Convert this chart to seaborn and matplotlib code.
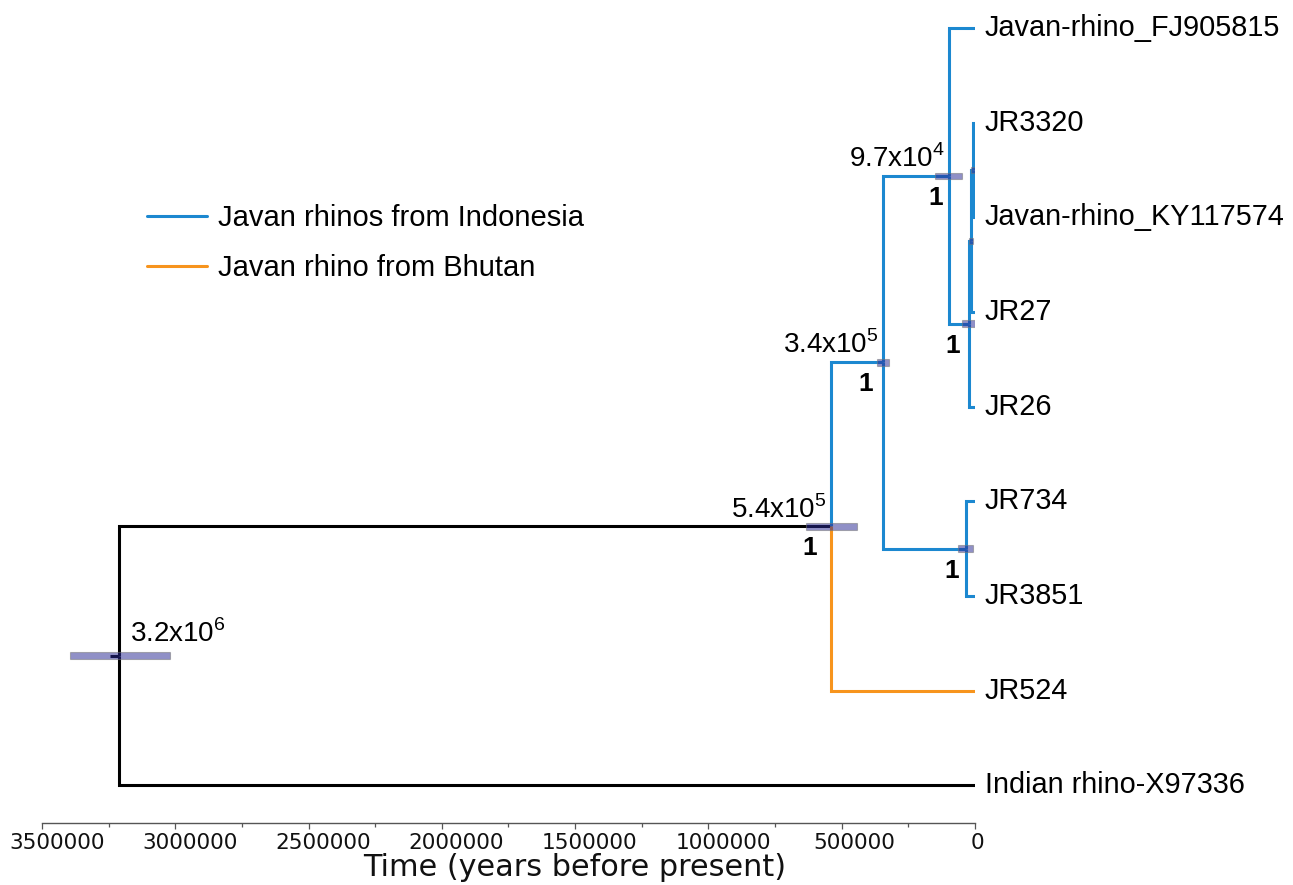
import numpy as np
import pandas as pd
import matplotlib
matplotlib.use("Agg")
import matplotlib.pyplot as plt
from matplotlib.lines import Line2D
from matplotlib.ticker import MultipleLocator, FuncFormatter
import matplotlib.transforms as mtransforms
import seaborn as sns

# ---------------- data ----------------
tip_labels = ["Javan-rhino_FJ905815", "JR3320", "Javan-rhino_KY117574", "JR27", "JR26",
              "JR734", "JR3851", "JR524", "Indian rhino-X97336"]
tip_groups = ["indo", "indo", "indo", "indo", "indo", "indo", "indo", "bhutan", "out"]

node_names = ["root", "n54", "n34", "n97", "nA", "nB", "nC", "nL"]
node_ages = [3210000, 540000, 345000, 97000, 22000, 16000, 7500, 34000]
node_hpd_low = [3020000, 443000, 322000, 49000, 0, 7000, 0, 7500]
node_hpd_high = [3395000, 634000, 367000, 150000, 49000, 22000, 15000, 64000]
node_age_labels = ["3.2x10$^{6}$", "5.4x10$^{5}$", "3.4x10$^{5}$", "9.7x10$^{4}$", "", "", "", ""]
node_posterior = ["", "1", "1", "1", "1", "", "", "1"]
node_groups = ["out", "out", "indo", "indo", "indo", "indo", "indo", "indo"]
# topology: children of each internal node
node_children = {
    "root": ["n54", "Indian rhino-X97336"],
    "n54": ["n34", "JR524"],
    "n34": ["n97", "nL"],
    "n97": ["Javan-rhino_FJ905815", "nA"],
    "nA": ["nB", "JR26"],
    "nB": ["nC", "JR27"],
    "nC": ["JR3320", "Javan-rhino_KY117574"],
    "nL": ["JR734", "JR3851"],
}
root_stem = 35000

legend_labels = ["Javan rhinos from Indonesia", "Javan rhino from Bhutan"]
colors = {"indo": "#1c88d0", "bhutan": "#f7941d", "out": "#000000"}

# ---------------- layout ----------------
age = {n: a for n, a in zip(node_names, node_ages)}
grp = {n: g for n, g in zip(node_names, node_groups)}
ypos = {}
for i, (t, g) in enumerate(zip(tip_labels, tip_groups)):
    age[t] = 0
    grp[t] = g
    ypos[t] = i


def get_y(n):
    if n in ypos:
        return ypos[n]
    ys = [get_y(c) for c in node_children[n]]
    ypos[n] = float(np.mean(ys))
    return ypos[n]


get_y("root")

rows = []
bid = 0
for parent, kids in node_children.items():
    for c in kids:
        pts = [(age[parent], ypos[parent]), (age[parent], ypos[c]), (age[c], ypos[c])]
        for k, (x, y) in enumerate(pts):
            rows.append(dict(branch=bid, order=k, x=x, y=y, group=grp[c]))
        bid += 1
# root stem
for k, x in enumerate([age["root"] + root_stem, age["root"]]):
    rows.append(dict(branch=bid, order=k, x=x, y=ypos["root"], group="out"))
df = pd.DataFrame(rows)

# ---------------- figure ----------------
sns.set_style("white")
plt.rcParams["font.family"] = ["Liberation Sans", "DejaVu Sans"]
plt.rcParams["mathtext.fontset"] = "custom"
plt.rcParams["mathtext.rm"] = "Liberation Sans"
plt.rcParams["text.color"] = "black"

W, H = 1293, 885
fig = plt.figure(figsize=(W / 100, H / 100), dpi=100)
ax = fig.add_axes([42 / W, (H - 823) / H, (975 - 42) / W, 823 / H])

sns.lineplot(data=df, x="x", y="y", units="branch", hue="group", palette=colors,
             estimator=None, sort=False, lw=2.2, ax=ax, legend=False,
             solid_joinstyle="miter", solid_capstyle="butt")

ax.set_xlim(3500000, 0)
ax.set_ylim(8.40, -0.296)

# HPD bars
for n, lo, hi in zip(node_names, node_hpd_low, node_hpd_high):
    ax.barh(ypos[n], hi - lo, left=lo, height=0.07, color="#2a2a94", alpha=0.52,
            edgecolor="#777777", linewidth=0.8, zorder=5)

# node annotations
for n, lab, post in zip(node_names, node_age_labels, node_posterior):
    x, y = age[n], ypos[n]
    if n == "root":
        ax.annotate(lab, (x, y), xytext=(11, 22), textcoords="offset pixels",
                    ha="left", va="center", fontsize=20)
    elif lab:
        ax.annotate(lab, (x, y), xytext=(-4, 17), textcoords="offset pixels",
                    ha="right", va="center", fontsize=20)
    if post:
        dx = {"n54": -21, "n34": -17, "n97": -13, "nA": -16, "nL": -14}[n]
        ax.annotate(post, (x, y), xytext=(dx, -22), textcoords="offset pixels",
                    ha="center", va="center", fontsize=19, fontweight="bold")

# tip labels
for t in tip_labels:
    ax.annotate(t, (0, ypos[t]), xytext=(10, 0), textcoords="offset pixels",
                ha="left", va="center", fontsize=20.8, annotation_clip=False)

# axis styling
for s in ["top", "right", "left"]:
    ax.spines[s].set_visible(False)
ax.spines["bottom"].set_color("#555555")
ax.spines["bottom"].set_linewidth(1.0)
ax.set_yticks([])
ax.xaxis.set_major_locator(MultipleLocator(500000))
ax.xaxis.set_minor_locator(MultipleLocator(250000))
ax.xaxis.set_major_formatter(FuncFormatter(lambda v, p: f"{int(round(v))}"))
ax.tick_params(axis="x", which="both", direction="out", length=4, width=0.9,
               color="#555555", bottom=True, pad=3)
ax.tick_params(axis="x", which="minor", length=3)
for lbl in ax.get_xticklabels():
    lbl.set_fontfamily("DejaVu Sans")
    lbl.set_fontsize(15.6)
    lbl.set_color("#111111")
    shift = 2.1 * len(lbl.get_text())
    lbl.set_transform(lbl.get_transform() +
                      mtransforms.ScaledTranslation(shift / 100, 0, fig.dpi_scale_trans))
ax.set_xlabel("Time (years before present)", fontfamily="DejaVu Sans", fontsize=21.8,
              va="center", color="#111111")
ax.xaxis.set_label_coords((574.5 - 42) / 933, -(868 - 823) / 823)
ax.set_ylabel("")

# legend
handles = [Line2D([0], [0], color=colors["indo"], lw=2.2),
           Line2D([0], [0], color=colors["bhutan"], lw=2.2)]
fig.legend(handles, legend_labels, loc="upper left", bbox_to_anchor=(147 / W, 1 - 204 / H),
           frameon=False, fontsize=21, handlelength=2.07, handletextpad=0.38,
           labelspacing=0.76, borderaxespad=0, borderpad=0)

fig.savefig("out.png", dpi=100)
